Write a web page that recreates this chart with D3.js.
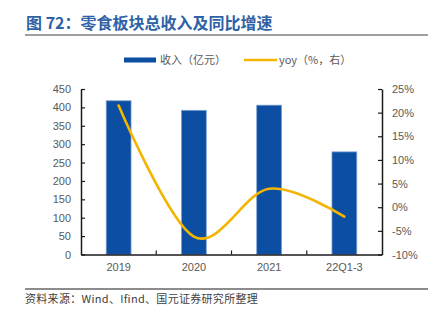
<!DOCTYPE html>
<html>
<head>
<meta charset="utf-8">
<script src="https://cdn.jsdelivr.net/npm/d3@7"></script>
<style>
  html, body { margin: 0; padding: 0; background: #fff; }
  svg { display: block; }
  text { font-family: "Liberation Sans", Arial, "Noto Sans CJK SC", sans-serif; }
</style>
</head>
<body>
<svg id="chart" width="441" height="322"></svg>
<script>
// Snack segment: total revenue (100m CNY) and YoY growth
const categories = ["2019", "2020", "2021", "22Q1-3"];
const revenue = [418, 392, 406, 279];
const yoy = [21.5, -6.2, 3.9, -2.0];
const leftTicks = [0, 50, 100, 150, 200, 250, 300, 350, 400, 450];
const rightTicks = [-10, -5, 0, 5, 10, 15, 20, 25];

const svg = d3.select("#chart");
const cjk = '"Noto Sans CJK SC", "Liberation Sans", sans-serif';

const plot = { left: 81, right: 382, top: 89, bottom: 254.5 };

const x = d3.scaleBand().domain(categories).range([plot.left, plot.right]).padding(0);
const yL = d3.scaleLinear().domain([0, 450]).range([plot.bottom, plot.top]);
const yR = d3.scaleLinear().domain([-10, 25]).range([plot.bottom, plot.top]);

// Title and rule under it
svg.append("text")
  .attr("x", 26).attr("y", 29)
  .attr("fill", "#2e62a6")
  .attr("font-size", 16).attr("font-weight", "bold")
  .style("font-family", cjk)
  .text("图 72：零食板块总收入及同比增速");
svg.append("line")
  .attr("x1", 25).attr("x2", 428).attr("y1", 35).attr("y2", 35)
  .attr("stroke", "#808080").attr("stroke-width", 1.5);

// Legend
svg.append("rect").attr("x", 124).attr("y", 57.5).attr("width", 32).attr("height", 5).attr("fill", "#0b4ea2");
svg.append("text").attr("x", 160).attr("y", 64).attr("font-size", 11).attr("fill", "#595959")
  .style("font-family", cjk).text("收入（亿元）");
svg.append("line").attr("x1", 244).attr("x2", 277).attr("y1", 60).attr("y2", 60)
  .attr("stroke", "#f5b400").attr("stroke-width", 2.5);
svg.append("text").attr("x", 279).attr("y", 64).attr("font-size", 11).attr("fill", "#595959")
  .style("font-family", cjk).text("yoy（%，右）");

// Bars
const barFrac = 0.33;
svg.append("g").selectAll("rect")
  .data(categories)
  .join("rect")
  .attr("x", (d) => x(d) + x.bandwidth() * (1 - barFrac) / 2)
  .attr("width", x.bandwidth() * barFrac)
  .attr("y", (d, i) => yL(revenue[i]))
  .attr("height", (d, i) => plot.bottom - yL(revenue[i]))
  .attr("fill", "#0b4ea2")
  .attr("stroke", "#7ea2d2").attr("stroke-width", 0.8);

// YoY smooth line
const line = d3.line()
  .x((d, i) => x(categories[i]) + x.bandwidth() / 2)
  .y((d) => yR(d))
  .curve(d3.curveCatmullRom.alpha(0));
svg.append("path")
  .datum(yoy)
  .attr("d", line)
  .attr("fill", "none")
  .attr("stroke", "#f5b400")
  .attr("stroke-width", 2.6)
  .attr("stroke-linecap", "round");

// Axes
const axisColor = "#1a1a1a";
const labelColor = "#595959";

const leftAxis = svg.append("g")
  .attr("transform", `translate(${plot.left},0)`)
  .call(d3.axisLeft(yL).tickValues(leftTicks).tickSizeInner(-4).tickSizeOuter(0).tickPadding(14));
const rightAxis = svg.append("g")
  .attr("transform", `translate(${plot.right},0)`)
  .call(d3.axisRight(yR).tickValues(rightTicks).tickSizeInner(-4).tickSizeOuter(0).tickPadding(14)
    .tickFormat((d) => d + "%"));
const bottomAxis = svg.append("g")
  .attr("transform", `translate(0,${plot.bottom})`)
  .call(d3.axisBottom(x).tickSize(0).tickPadding(9));

// Category boundary ticks on the x axis
svg.append("g").selectAll("line")
  .data(categories.slice(1))
  .join("line")
  .attr("x1", (d) => x(d)).attr("x2", (d) => x(d))
  .attr("y1", plot.bottom).attr("y2", plot.bottom - 4)
  .attr("stroke", axisColor).attr("stroke-width", 1.2);

[leftAxis, rightAxis, bottomAxis].forEach((g) => {
  g.select(".domain").attr("stroke", axisColor).attr("stroke-width", 1.5);
  g.selectAll(".tick line").attr("stroke", axisColor).attr("stroke-width", 1.2);
  g.selectAll(".tick text").attr("fill", labelColor).attr("font-size", 11)
    .style("font-family", '"Liberation Sans", Arial, sans-serif');
});
leftAxis.selectAll(".tick text").attr("x", -10);
rightAxis.selectAll(".tick text").attr("x", 10);

// Source note
svg.append("line")
  .attr("x1", 25).attr("x2", 428).attr("y1", 289).attr("y2", 289)
  .attr("stroke", "#8c8c8c").attr("stroke-width", 2);
svg.append("text")
  .attr("x", 25).attr("y", 303)
  .attr("font-size", 11).attr("letter-spacing", 0.3).attr("fill", "#404040")
  .style("font-family", cjk)
  .text("资料来源：Wind、Ifind、国元证券研究所整理");
</script>
</body>
</html>
